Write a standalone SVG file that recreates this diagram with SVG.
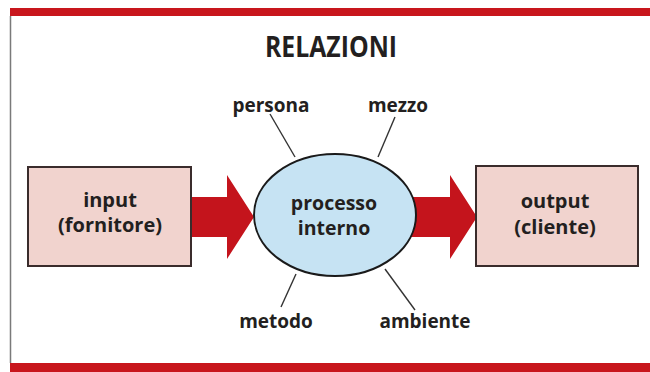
<svg xmlns="http://www.w3.org/2000/svg" width="650" height="372" viewBox="0 0 650 372">
  <style>
    .lbl { font-family: "Open Sans", "Noto Sans", "Liberation Sans", sans-serif; font-weight: 700; fill: #231f20; text-anchor: middle; }
    .box { fill: #f1d3ce; stroke: #3a2c2c; stroke-width: 2; }
    .arrow { fill: #c4141c; }
    .conn { stroke: #333333; stroke-width: 1.4; fill: none; }
    .band { fill: #c8161d; }
  </style>
  <rect x="0" y="0" width="650" height="372" fill="#ffffff"/>
  <g id="frame">
    <rect class="band" x="10" y="8" width="640" height="8"/>
    <rect class="band" x="10" y="363" width="640" height="9"/>
    <line x1="10.5" y1="16" x2="10.5" y2="363" stroke="#7a7a7a" stroke-width="1.5"/>
  </g>
  <g id="title">
    <text class="lbl" x="331" y="57" font-size="28" textLength="132" lengthAdjust="spacingAndGlyphs">RELAZIONI</text>
  </g>
  <g id="connectors">
    <polygon class="arrow" points="190,197 227,197 227,175 254,217 227,259 227,237 190,237"/>
    <polygon class="arrow" points="405,197 450,197 450,175 477,217 450,259 450,237 405,237"/>
    <line class="conn" x1="270" y1="114" x2="295" y2="157"/>
    <line class="conn" x1="395" y1="117" x2="378" y2="157"/>
    <line class="conn" x1="296" y1="274" x2="281" y2="307"/>
    <line class="conn" x1="385" y1="269" x2="415" y2="310"/>
  </g>
  <g id="input">
    <rect class="box" x="28" y="167" width="163" height="99"/>
    <text class="lbl" x="110" y="207" font-size="20">input</text>
    <text class="lbl" x="110" y="232" font-size="20">(fornitore)</text>
  </g>
  <g id="processo">
    <ellipse cx="335" cy="215" rx="81" ry="61" fill="#c6e3f3" stroke="#1a1a1a" stroke-width="2"/>
    <text class="lbl" x="334" y="210" font-size="19.5">processo</text>
    <text class="lbl" x="334" y="235" font-size="19.5">interno</text>
  </g>
  <g id="output">
    <rect class="box" x="476" y="166" width="162" height="100"/>
    <text class="lbl" x="555" y="208" font-size="20">output</text>
    <text class="lbl" x="555" y="234" font-size="20">(cliente)</text>
  </g>
  <g id="persona"><text class="lbl" x="271" y="112" font-size="19">persona</text></g>
  <g id="mezzo"><text class="lbl" x="398" y="112" font-size="19">mezzo</text></g>
  <g id="metodo"><text class="lbl" x="276" y="328" font-size="19">metodo</text></g>
  <g id="ambiente"><text class="lbl" x="425" y="328" font-size="19">ambiente</text></g>
</svg>
